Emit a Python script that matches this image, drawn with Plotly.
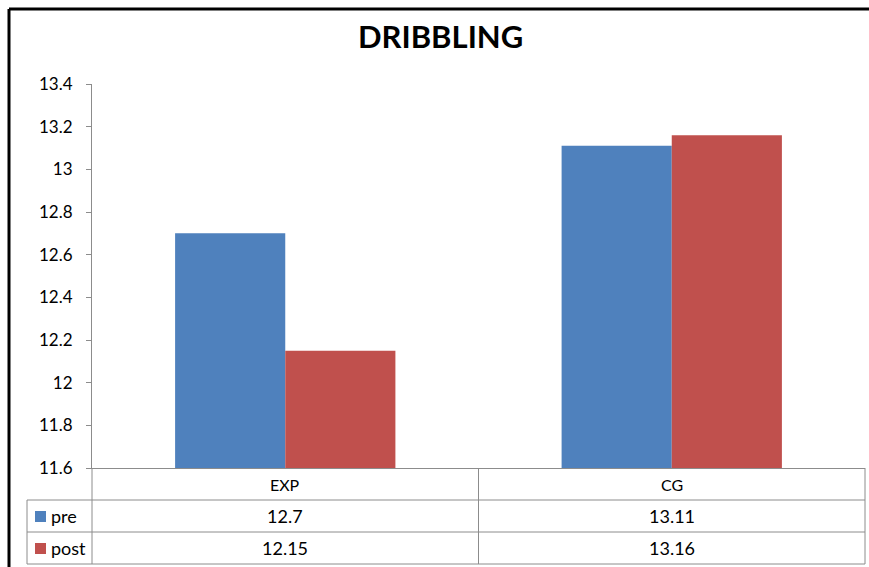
import plotly.graph_objects as go

categories = ["EXP", "CG"]
series_names = ["pre", "post"]
pre_values = [12.7, 13.11]
post_values = [12.15, 13.16]
tick_vals = [11.6, 11.8, 12.0, 12.2, 12.4, 12.6, 12.8, 13.0, 13.2, 13.4]
tick_text = ["11.6", "11.8", "12", "12.2", "12.4", "12.6", "12.8", "13", "13.2", "13.4"]
title_text = "DRIBBLING"

W, H = 869, 567
colors = ["#4F81BD", "#C0504D"]
FONT = "Lato"
GRAY = "#8C8C8C"

def px(x):
    return x / W

def py(y):
    return 1 - y / H

# plot area in pixels
L, R, T, B = 92, 865, 84, 468
ROW = 32
LEFTCOL = 27

fig = go.Figure()
fig.add_trace(go.Bar(x=categories, y=pre_values, name=series_names[0],
                     marker=dict(color=colors[0], line=dict(width=0))))
fig.add_trace(go.Bar(x=categories, y=post_values, name=series_names[1],
                     marker=dict(color=colors[1], line=dict(width=0))))

shapes = []
# outer black frame (left and top visible)
shapes.append(dict(type="line", xref="paper", yref="paper", x0=px(9), x1=1, y0=py(9), y1=py(9),
                   line=dict(color="black", width=3)))
shapes.append(dict(type="line", xref="paper", yref="paper", x0=px(9), x1=px(9), y0=py(9), y1=0,
                   line=dict(color="black", width=3)))

# table lines
line_style = dict(color=GRAY, width=1)
for i in range(1, 4):
    y = B + ROW * i
    shapes.append(dict(type="line", xref="paper", yref="paper", x0=px(LEFTCOL), x1=px(R), y0=py(y), y1=py(y),
                       line=line_style))
shapes.append(dict(type="line", xref="paper", yref="paper", x0=px(LEFTCOL), x1=px(LEFTCOL),
                   y0=py(B + ROW), y1=py(B + 3 * ROW), line=line_style))
shapes.append(dict(type="line", xref="paper", yref="paper", x0=px(L), x1=px(L),
                   y0=py(B), y1=py(B + 3 * ROW), line=line_style))
ncat = len(categories)
for k in range(1, ncat + 1):
    xk = L + (R - L) * k / ncat
    shapes.append(dict(type="line", xref="paper", yref="paper", x0=px(xk), x1=px(xk),
                       y0=py(B), y1=py(B + 3 * ROW), line=line_style))

annotations = []
# title
annotations.append(dict(text="<b>" + title_text + "</b>", x=px(440), y=py(36), xref="paper", yref="paper",
                        showarrow=False, font=dict(family=FONT, size=31, color="black"),
                        xanchor="center", yanchor="middle"))
# category row
for c in categories:
    annotations.append(dict(text=c, x=c, y=py(B + ROW / 2), xref="x", yref="paper", showarrow=False,
                            font=dict(family=FONT, size=16, color="black"), xanchor="center", yanchor="middle"))
# value rows
for r, (name, vals) in enumerate(zip(series_names, [pre_values, post_values])):
    yc = B + ROW * (r + 1) + ROW / 2
    shapes.append(dict(type="rect", xref="paper", yref="paper", x0=px(35), x1=px(46), y0=py(yc - 5), y1=py(yc + 6),
                       fillcolor=colors[r], line=dict(width=0)))
    annotations.append(dict(text=name, x=px(49), y=py(yc), xref="paper", yref="paper", showarrow=False,
                            font=dict(family=FONT, size=18, color="black"), xanchor="left", yanchor="middle"))
    for c, v in zip(categories, vals):
        annotations.append(dict(text=f"{v:g}", x=c, y=py(yc), xref="x", yref="paper", showarrow=False,
                                font=dict(family=FONT, size=18, color="black"), xanchor="center", yanchor="middle"))

fig.update_layout(
    template="none",
    width=W, height=H,
    margin=dict(l=0, r=0, t=0, b=0, pad=0, autoexpand=False),
    paper_bgcolor="white", plot_bgcolor="white",
    barmode="group", bargap=0.43, bargroupgap=0,
    showlegend=False,
    shapes=shapes, annotations=annotations,
    xaxis=dict(domain=[px(L), px(R)], showticklabels=False, showgrid=False, zeroline=False,
               showline=True, linecolor=GRAY, linewidth=1, ticks="", automargin=False),
    yaxis=dict(domain=[py(B), py(T)], range=[11.6, 13.4], tickvals=tick_vals, ticktext=tick_text,
               showgrid=False, zeroline=False, showline=True, linecolor=GRAY, linewidth=1,
               ticks="outside", ticklen=5, tickcolor=GRAY, ticklabelstandoff=10, automargin=False,
               tickfont=dict(family=FONT, size=17, color="black")),
)

fig.write_html("out.html")
